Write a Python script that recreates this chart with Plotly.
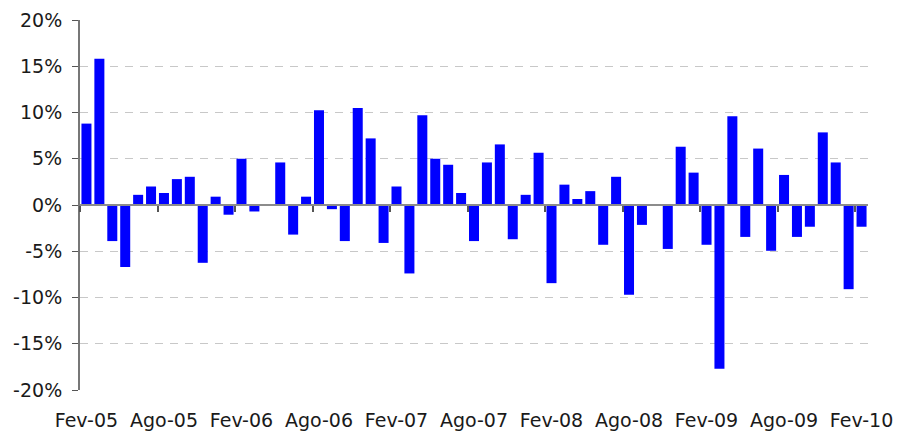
import plotly.graph_objects as go

months_pt = ["Jan", "Fev", "Mar", "Abr", "Mai", "Jun", "Jul", "Ago", "Set", "Out", "Nov", "Dez"]
years = ["05", "06", "07", "08", "09", "10"]

categories = []
for y in years:
    for m in months_pt:
        categories.append(f"{m}-{y}")
categories = categories[categories.index("Fev-05"): categories.index("Fev-10") + 1]

values = [
    8.8, 15.8, -3.9, -6.7, 1.1, 2.0, 1.3, 2.8, 3.05, -6.25,
    0.9, -1.05, 5.0, -0.7, 0.0, 4.6, -3.2, 0.9, 10.25, -0.45,
    -3.9, 10.5, 7.2, -4.1, 2.0, -7.4, 9.7, 5.0, 4.35, 1.3,
    -3.9, 4.6, 6.55, -3.7, 1.1, 5.65, -8.45, 2.2, 0.65, 1.5,
    -4.3, 3.05, -9.7, -2.15, 0.0, -4.75, 6.3, 3.5, -4.3, -17.7,
    9.6, -3.45, 6.1, -4.95, 3.25, -3.45, -2.35, 7.85, 4.6, -9.1,
    -2.35,
]

tick_labels = categories[::6]
y_ticks = [-20, -15, -10, -5, 0, 5, 10, 15, 20]

font = dict(family="DejaVu Sans", size=19, color="#1a1a1a")

fig = go.Figure()
fig.add_trace(go.Bar(
    x=categories, y=values,
    marker=dict(color="#0000FF", line=dict(width=0)),
    xaxis="x", yaxis="y",
    hoverinfo="x+y",
))
# helper invisible trace to draw the zero-line axis with boundary ticks
fig.add_trace(go.Scatter(
    x=[-0.5, len(categories) - 0.5], y=[0, 0], mode="lines",
    line=dict(width=0), xaxis="x2", yaxis="y", showlegend=False, hoverinfo="skip",
))

fig.update_layout(
    width=902, height=434,
    margin=dict(l=80, r=34, t=20, b=44, autoexpand=False),
    plot_bgcolor="white", paper_bgcolor="white",
    showlegend=False,
    bargap=0.225,
    font=font,
    xaxis=dict(
        type="category",
        categoryorder="array", categoryarray=categories,
        range=[-0.5, len(categories) - 0.5],
        tickmode="array", tickvals=tick_labels, ticktext=tick_labels,
        ticks="", showline=False, showgrid=False, zeroline=False,
        ticklabelstandoff=17,
        tickfont=font, automargin=False,
    ),
    xaxis2=dict(
        overlaying="x", anchor="free", position=0.5,
        range=[-0.5, len(categories) - 0.5],
        tickmode="array",
        tickvals=[i - 0.5 for i in range(0, len(categories), 6)],
        showticklabels=False,
        ticks="outside", ticklen=6, tickwidth=2, tickcolor="#555555",
        showline=True, linecolor="#8c8c8c", linewidth=2,
        showgrid=False, zeroline=False, automargin=False,
    ),
    yaxis=dict(
        range=[-20, 20],
        tickmode="array", tickvals=y_ticks,
        ticktext=[f"{v}%" for v in y_ticks],
        ticks="outside", ticklen=6, tickcolor="#555555", tickwidth=1,
        showline=True, linecolor="#777777", linewidth=2,
        showgrid=True, gridcolor="#c8c8c8", gridwidth=1, griddash="8px,7px",
        zeroline=False, ticklabelstandoff=6,
        tickfont=font, automargin=False,
    ),
)

fig.write_html(
    "out.html",
    config={"displayModeBar": False},
    post_script="document.body.style.margin='0';",
)
